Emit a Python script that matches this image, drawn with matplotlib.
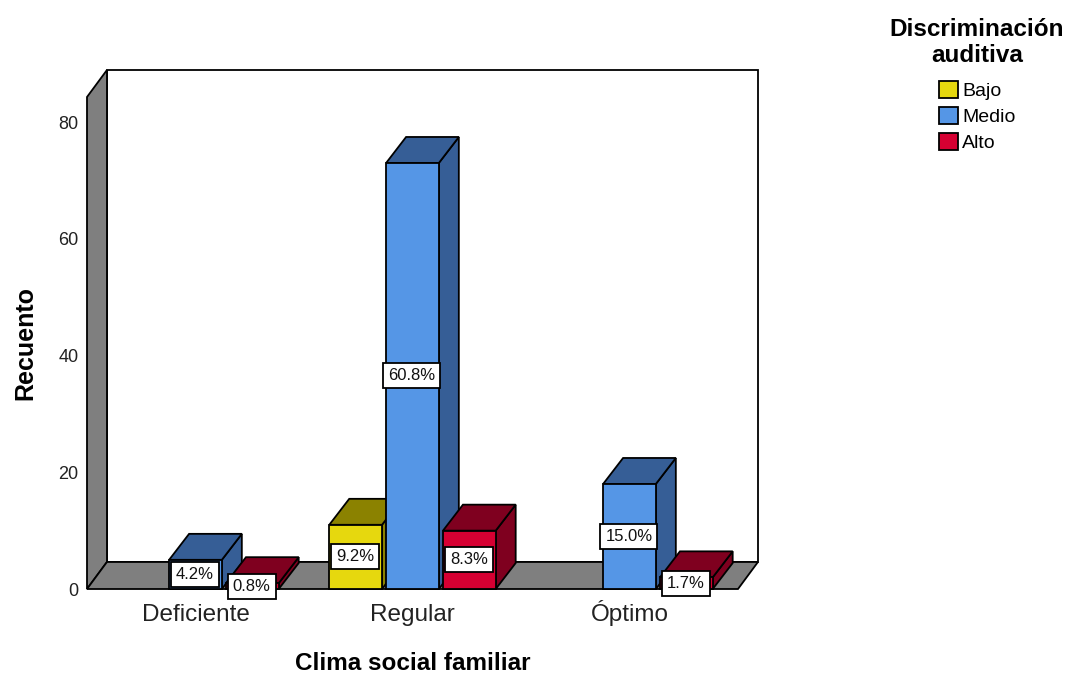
import matplotlib
matplotlib.use("Agg")
import matplotlib.pyplot as plt
from matplotlib.patches import Polygon, Patch

plt.rcParams['font.family'] = ['Liberation Sans', 'DejaVu Sans']

# ---------- data ----------
categories = ['Deficiente', 'Regular', 'Óptimo']
series_names = ['Bajo', 'Medio', 'Alto']
bajo = [0, 11, 0]
medio = [5, 73, 18]
alto = [1, 10, 2]
bajo_pct = ['', '9.2%', '']
medio_pct = ['4.2%', '60.8%', '15.0%']
alto_pct = ['0.8%', '8.3%', '1.7%']
y_ticks = [0, 20, 40, 60, 80]

# ---------- style ----------
W, H = 1069, 675
front = ['#E6D80E', '#5596E6', '#D60032']
dark = ['#8B8200', '#365E96', '#7F001F']
GRAY = '#7F7F7F'
LW = 1.3
BAR_W = 0.243
STEP = 0.262
X_MAX_Y = 84.3
# 3d offsets
WALL_DX, WALL_DY = 0.092, 4.63
BAR_DX, BAR_DY = 0.092, 4.45

fig = plt.figure(figsize=(W / 100, H / 100), dpi=100)
ax = fig.add_axes([87 / W, 1 - 589 / H, 651 / W, 492 / H])
ax.set_xlim(-0.5, 2.5)
ax.set_ylim(0, X_MAX_Y)
for s in ax.spines.values():
    s.set_visible(False)
ax.patch.set_visible(False)


def poly(points, color, z):
    ax.add_patch(Polygon(points, closed=True, facecolor=color, edgecolor='black',
                         linewidth=LW, joinstyle='miter', clip_on=False, zorder=z))


# walls and floor
x0, x1 = -0.5, 2.5
poly([(x0 + WALL_DX, WALL_DY), (x1 + WALL_DX, WALL_DY),
      (x1 + WALL_DX, X_MAX_Y + WALL_DY), (x0 + WALL_DX, X_MAX_Y + WALL_DY)], 'white', 1)
poly([(x0, 0), (x0 + WALL_DX, WALL_DY), (x0 + WALL_DX, X_MAX_Y + WALL_DY), (x0, X_MAX_Y)], GRAY, 2)
poly([(x0, 0), (x1, 0), (x1 + WALL_DX, WALL_DY), (x0 + WALL_DX, WALL_DY)], GRAY, 2)


def bar3d(center, value, i, z):
    left = center - BAR_W / 2
    right = center + BAR_W / 2
    # side, top, front
    poly([(right, 0), (right + BAR_DX, BAR_DY), (right + BAR_DX, value + BAR_DY), (right, value)], dark[i], z)
    poly([(left, value), (right, value), (right + BAR_DX, value + BAR_DY), (left + BAR_DX, value + BAR_DY)], dark[i], z)
    poly([(left, 0), (right, 0), (right, value), (left, value)], front[i], z)


z = 3
for c in range(len(categories)):
    for i, vals in enumerate([bajo, medio, alto]):
        if vals[c] > 0:
            bar3d(c + (i - 1) * STEP, vals[c], i, z)
            z += 1

# percentage boxes
for i, (vals, pcts) in enumerate(zip([bajo, medio, alto], [bajo_pct, medio_pct, alto_pct])):
    for c, (v, p) in enumerate(zip(vals, pcts)):
        if p:
            ax.text(c + (i - 1) * STEP - 0.003, v / 2, p, ha='center', va='center', fontsize=12,
                    color='#111111', zorder=50, clip_on=False,
                    bbox=dict(boxstyle='square,pad=0.3', facecolor='white', edgecolor='black', linewidth=LW))

# axes text
ax.set_xticks(range(len(categories)))
ax.set_xticklabels(categories, fontsize=17.5, color='#222222', va='baseline')
ax.set_yticks(y_ticks)
ax.set_yticklabels([str(t) for t in y_ticks], fontsize=13, color='#222222')
ax.tick_params(axis='x', length=0, pad=23)
ax.tick_params(axis='y', length=0, pad=6)
ax.set_xlabel('Clima social familiar', fontsize=17.5, fontweight='bold')
ax.set_ylabel('Recuento', fontsize=18, fontweight='bold')
# fixed label positions, in axes fractions
ax.xaxis.set_label_coords(0.5, -75 / 492, transform=ax.transAxes)
ax.yaxis.set_label_coords(-62 / 651, 0.5, transform=ax.transAxes)
ax.xaxis.label.set_va('center')
ax.yaxis.label.set_va('center')

# legend
handles = [Patch(facecolor=front[i], edgecolor='black', linewidth=LW, label=series_names[i])
           for i in range(len(series_names))]
leg = fig.legend(handles=handles, title='Discriminación\nauditiva', frameon=False,
                 loc='upper center', bbox_to_anchor=(977 / W, 1 - 10 / H),
                 prop={'size': 14}, title_fontproperties={'size': 17.5, 'weight': 'bold'},
                 handlelength=1.0, handleheight=0.95, handletextpad=0.2, labelspacing=0.36,
                 borderaxespad=0, alignment='center')
leg.get_title().set_multialignment('center')
leg._legend_box.sep = 10

plt.savefig('out.png', dpi=100)
